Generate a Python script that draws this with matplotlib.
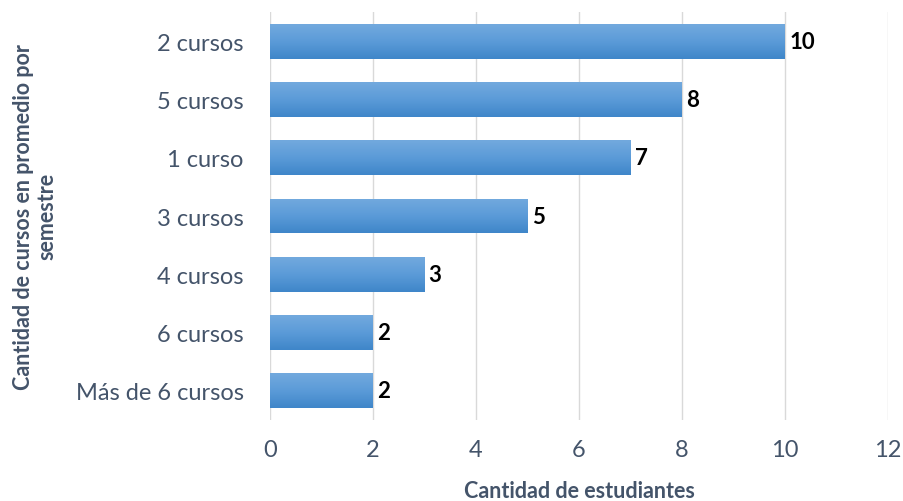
import numpy as np
import matplotlib.pyplot as plt
import matplotlib as mpl
from matplotlib.colors import LinearSegmentedColormap

mpl.rcParams['font.family'] = ['Lato', 'DejaVu Sans']

# data, top to bottom as shown
categories = ['2 cursos', '5 cursos', '1 curso', '3 cursos', '4 cursos',
              '6 cursos', 'Más de 6 cursos']
students = [10, 8, 7, 5, 3, 2, 2]
xticks = [0, 2, 4, 6, 8, 10, 12]

text_col = '#44546A'
grad = LinearSegmentedColormap.from_list('bar', ['#3f86c9', '#5b9bd8', '#72a9de'])

fig = plt.figure(figsize=(9.04, 5.02), dpi=100)
ax = fig.add_axes([0.2987, 0.1614, 0.6836, 0.8126])

ypos = np.arange(len(categories))[::-1]
bars = ax.barh(ypos, students, height=0.6, color='none', zorder=3)

# gradient fill inside each bar
g = np.linspace(0, 1, 64).reshape(-1, 1)
for b in bars:
    x0, y0 = b.get_x(), b.get_y()
    w, h = b.get_width(), b.get_height()
    im = ax.imshow(g, cmap=grad, aspect='auto', origin='lower',
                   extent=[x0, x0 + w, y0, y0 + h], zorder=3)
    im.set_clip_path(b)

for y, v in zip(ypos, students):
    ax.text(v + 0.08, y, str(v), va='center', ha='left', fontsize=16,
            fontweight='bold', color='black', zorder=4)

ax.set_xlim(0, 12)
ax.set_ylim(-0.5, len(categories) - 0.5)
ax.set_xticks(xticks)
ax.set_yticks(ypos)
ax.set_yticklabels(categories)
ax.tick_params(length=0, labelsize=17, colors=text_col)
ax.tick_params(axis='x', pad=14)
ax.tick_params(axis='y', pad=19)
ax.grid(axis='x', color='#d9d9d9', linewidth=1, zorder=0)
ax.set_axisbelow(True)
for s in ax.spines.values():
    s.set_visible(False)

ax.set_xlabel('Cantidad de estudiantes', fontsize=15.5, fontweight='bold',
              color=text_col, labelpad=14)
fig.text(0.039, 0.568, 'Cantidad de cursos en promedio por\nsemestre',
         rotation=90, ha='center', va='center', fontsize=15.5,
         fontweight='bold', color=text_col, linespacing=1.15)

fig.savefig('out.png', dpi=100)
